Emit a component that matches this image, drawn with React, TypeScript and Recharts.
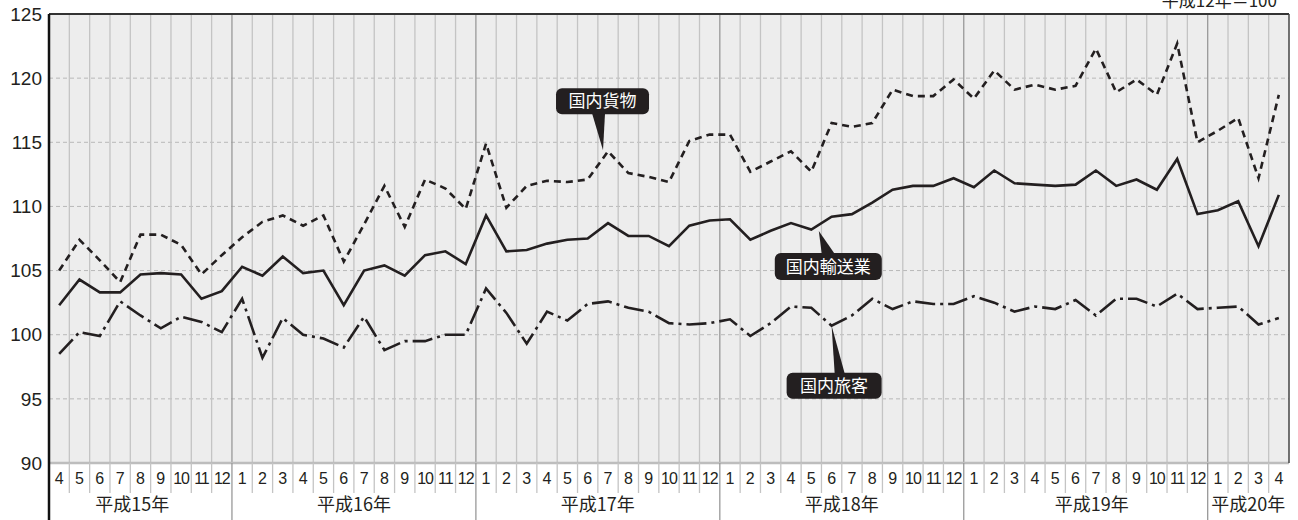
import { LineChart, Line, XAxis, YAxis, CartesianGrid, ReferenceLine, ReferenceDot } from 'recharts';

// 平成15年4月 〜 平成20年4月 (61 months)
const monthLabels = [
  '4', '5', '6', '7', '8', '9', '10', '11', '12',
  '1', '2', '3', '4', '5', '6', '7', '8', '9', '10', '11', '12',
  '1', '2', '3', '4', '5', '6', '7', '8', '9', '10', '11', '12',
  '1', '2', '3', '4', '5', '6', '7', '8', '9', '10', '11', '12',
  '1', '2', '3', '4', '5', '6', '7', '8', '9', '10', '11', '12',
  '1', '2', '3', '4'
];

// 国内貨物 (dashed)
const cargo = [
  105.0, 107.4, 105.8, 104.1, 107.8, 107.8, 107.0, 104.7, 106.2,
  107.6, 108.8, 109.3, 108.5, 109.3, 105.7, 108.6, 111.6, 108.4, 112.1, 111.4, 109.8,
  114.9, 109.9, 111.6, 112.0, 111.9, 112.1, 114.3, 112.6, 112.3, 111.9, 115.1, 115.6,
  115.6, 112.7, 113.5, 114.3, 112.7, 116.5, 116.2, 116.5, 119.1, 118.6, 118.6, 119.9,
  118.4, 120.6, 119.1, 119.5, 119.1, 119.4, 122.3, 118.9, 119.9, 118.7, 122.7, 115.0,
  115.9, 116.9, 112.2, 118.7
];

// 国内輸送業 (solid)
const industry = [
  102.3, 104.3, 103.3, 103.3, 104.7, 104.8, 104.7, 102.8, 103.4,
  105.3, 104.6, 106.1, 104.8, 105.0, 102.3, 105.0, 105.4, 104.6, 106.2, 106.5, 105.5,
  109.3, 106.5, 106.6, 107.1, 107.4, 107.5, 108.7, 107.7, 107.7, 106.9, 108.5, 108.9,
  109.0, 107.4, 108.1, 108.7, 108.2, 109.2, 109.4, 110.3, 111.3, 111.6, 111.6, 112.2,
  111.5, 112.8, 111.8, 111.7, 111.6, 111.7, 112.8, 111.6, 112.1, 111.3, 113.7, 109.4,
  109.7, 110.4, 106.9, 110.9
];

// 国内旅客 (dash-dot)
const passenger = [
  98.5, 100.2, 99.9, 102.6, 101.5, 100.5, 101.4, 101.0, 100.2,
  102.8, 98.2, 101.3, 100.0, 99.7, 99.0, 101.4, 98.8, 99.5, 99.5, 100.0, 100.0,
  103.6, 101.7, 99.3, 101.8, 101.1, 102.4, 102.6, 102.1, 101.8, 100.9, 100.8, 100.9,
  101.2, 99.9, 100.9, 102.2, 102.1, 100.7, 101.5, 102.8, 102.0, 102.6, 102.4, 102.4,
  103.0, 102.5, 101.8, 102.2, 102.0, 102.7, 101.5, 102.8, 102.8, 102.2, 103.2, 102.0,
  102.1, 102.2, 100.8, 101.3
];

const yearLabels = ['平成15年', '平成16年', '平成17年', '平成18年', '平成19年', '平成20年'];
const yearStarts = [0, 9, 21, 33, 45, 57];
const yearLabelPos = [4.1, 15, 27, 39, 51.3, 59];
const yTicks = [90, 95, 100, 105, 110, 115, 120, 125];

const N = monthLabels.length;
const data = monthLabels.map((m, i) => ({
  x: i + 0.5,
  month: m,
  cargo: cargo[i],
  industry: industry[i],
  passenger: passenger[i]
}));

const monthTicks: number[] = [];
for (let i = 0; i <= N; i++) {
  monthTicks.push(i);
  if (i < N) monthTicks.push(i + 0.5);
}
const yearTicks = [...yearStarts, ...yearLabelPos, N].sort((a, b) => a - b);

const INK = '#231f20';
const NUM_FONT = '"Liberation Sans", Arial, sans-serif';
const JP_FONT = '"Noto Sans CJK JP", "Noto Sans", sans-serif';

const MonthTick = (props: any) => {
  const { x, y, payload } = props;
  const v = payload.value;
  if (Number.isInteger(v)) {
    if (v === N) return null;
    if (v === 0) {
      return <line x1={x} x2={x} y1={y} y2={y + 30} stroke="#111" strokeWidth={2.5} />;
    }
    const isYear = yearStarts.includes(v);
    return (
      <line x1={x} x2={x} y1={y} y2={y + 30} stroke={isYear ? '#999' : '#c4c4c4'} strokeWidth={1.3} />
    );
  }
  const label = monthLabels[Math.floor(v)];
  return (
    <text
      x={x}
      y={y + 21}
      textAnchor="middle"
      fontSize={16}
      fill={INK}
      fontFamily={NUM_FONT}
      letterSpacing={label.length > 1 ? -1 : 0}
    >
      {label}
    </text>
  );
};

const YearTick = (props: any) => {
  const { x, y, payload } = props;
  const v = payload.value;
  if (v === N) return null;
  if (yearStarts.includes(v)) {
    return (
      <line
        x1={x}
        x2={x}
        y1={y}
        y2={y + 30}
        stroke={v === 0 ? '#111' : '#999'}
        strokeWidth={v === 0 ? 2.5 : 1.3}
      />
    );
  }
  const idx = yearLabelPos.indexOf(v);
  if (idx < 0) return null;
  return (
    <text x={x} y={y + 18} textAnchor="middle" fontSize={18} fill={INK} fontFamily={JP_FONT}>
      {yearLabels[idx]}
    </text>
  );
};

// callouts: label, anchor month index, series
const calloutLabels = ['国内貨物', '国内輸送業', '国内旅客'];
const calloutIdx = [27, 37, 38];
const calloutSeries = [cargo, industry, passenger];
// box/pointer offsets relative to the anchor point (styling only)
const calloutStyle = [
  { bx: -52, by: -63, bw: 93, bh: 26, ptr: [[-16, -38], [-3, -38], [-5, -1]] },
  { bx: -36.5, by: 23.5, bw: 107, bh: 27, ptr: [[7.5, 1.5], [10.5, 24.5], [23.5, 24.5]] },
  { bx: -45, by: 47, bw: 95, bh: 26, ptr: [[0, 0], [3, 47.5], [13, 47.5]] }
];

const makeCallout = (k: number) => (p: any) => {
  const { cx, cy } = p;
  const s = calloutStyle[k];
  const pts = s.ptr.map(([dx, dy]) => `${cx + dx},${cy + dy}`).join(' ');
  return (
    <g>
      <polygon points={pts} fill={INK} />
      <rect x={cx + s.bx} y={cy + s.by} width={s.bw} height={s.bh} rx={6} fill={INK} />
      <text
        x={cx + s.bx + s.bw / 2}
        y={cy + s.by + s.bh / 2 + 6}
        textAnchor="middle"
        fontSize={17}
        fill="#fff"
        fontFamily={JP_FONT}
      >
        {calloutLabels[k]}
      </text>
    </g>
  );
};

export default function App() {
  return (
    <div style={{ position: 'absolute', left: 0, top: 0, width: 1298, height: 520, background: '#fff', overflow: 'hidden' }}>
      <div
        style={{
          position: 'absolute',
          right: 21,
          top: -9,
          fontSize: 17,
          lineHeight: '17px',
          fontFamily: JP_FONT,
          color: INK
        }}
      >
        平成12年＝100
      </div>
      <LineChart width={1298} height={520} data={data} margin={{ top: 14, right: 9, left: 0, bottom: 0 }}>
        <CartesianGrid
          xAxisId="m"
          vertical={false}
          stroke="#b8b8b8"
          strokeDasharray="4 3"
          fill="#ededed"
          fillOpacity={1}
        />
        <XAxis
          xAxisId="m"
          dataKey="x"
          type="number"
          domain={[0, N]}
          ticks={monthTicks}
          interval={0}
          tick={<MonthTick />}
          tickLine={false}
          axisLine={false}
          tickSize={0}
          tickMargin={0}
          height={30}
          allowDataOverflow
        />
        <XAxis
          xAxisId="y"
          dataKey="x"
          type="number"
          domain={[0, N]}
          ticks={yearTicks}
          interval={0}
          tick={<YearTick />}
          tickLine={false}
          axisLine={false}
          tickSize={0}
          tickMargin={0}
          height={27}
          allowDataOverflow
        />
        <YAxis
          domain={[90, 125]}
          ticks={yTicks}
          interval={0}
          width={49}
          tickLine={false}
          tickSize={0}
          tickMargin={7}
          axisLine={{ stroke: '#111', strokeWidth: 2.5 }}
          tick={{ fontSize: 19, fill: INK, fontFamily: NUM_FONT }}
        />
        {monthTicks
          .filter((t) => Number.isInteger(t) && t > 0 && t < N)
          .map((t) => (
            <ReferenceLine
              key={'v' + t}
              xAxisId="m"
              x={t}
              stroke={yearStarts.includes(t) ? '#999' : '#c4c4c4'}
              strokeWidth={1.3}
            />
          ))}
        <ReferenceLine xAxisId="m" y={90} stroke="#bdbdbd" strokeWidth={2.5} />
        <ReferenceLine xAxisId="m" y={125} stroke="#333" strokeWidth={2} />
        <ReferenceLine xAxisId="m" x={N} stroke="#444" strokeWidth={1.5} />
        <Line
          xAxisId="m"
          dataKey="cargo"
          type="linear"
          stroke={INK}
          strokeWidth={2.6}
          strokeDasharray="7 5"
          dot={false}
          isAnimationActive={false}
        />
        <Line
          xAxisId="m"
          dataKey="industry"
          type="linear"
          stroke={INK}
          strokeWidth={2.6}
          dot={false}
          isAnimationActive={false}
        />
        <Line
          xAxisId="m"
          dataKey="passenger"
          type="linear"
          stroke={INK}
          strokeWidth={2.6}
          strokeDasharray="20 5 3 5"
          dot={false}
          isAnimationActive={false}
        />
        {calloutLabels.map((lab, k) => (
          <ReferenceDot
            key={lab}
            xAxisId="m"
            x={calloutIdx[k] + 0.5}
            y={calloutSeries[k][calloutIdx[k]]}
            shape={makeCallout(k)}
          />
        ))}
      </LineChart>
    </div>
  );
}
